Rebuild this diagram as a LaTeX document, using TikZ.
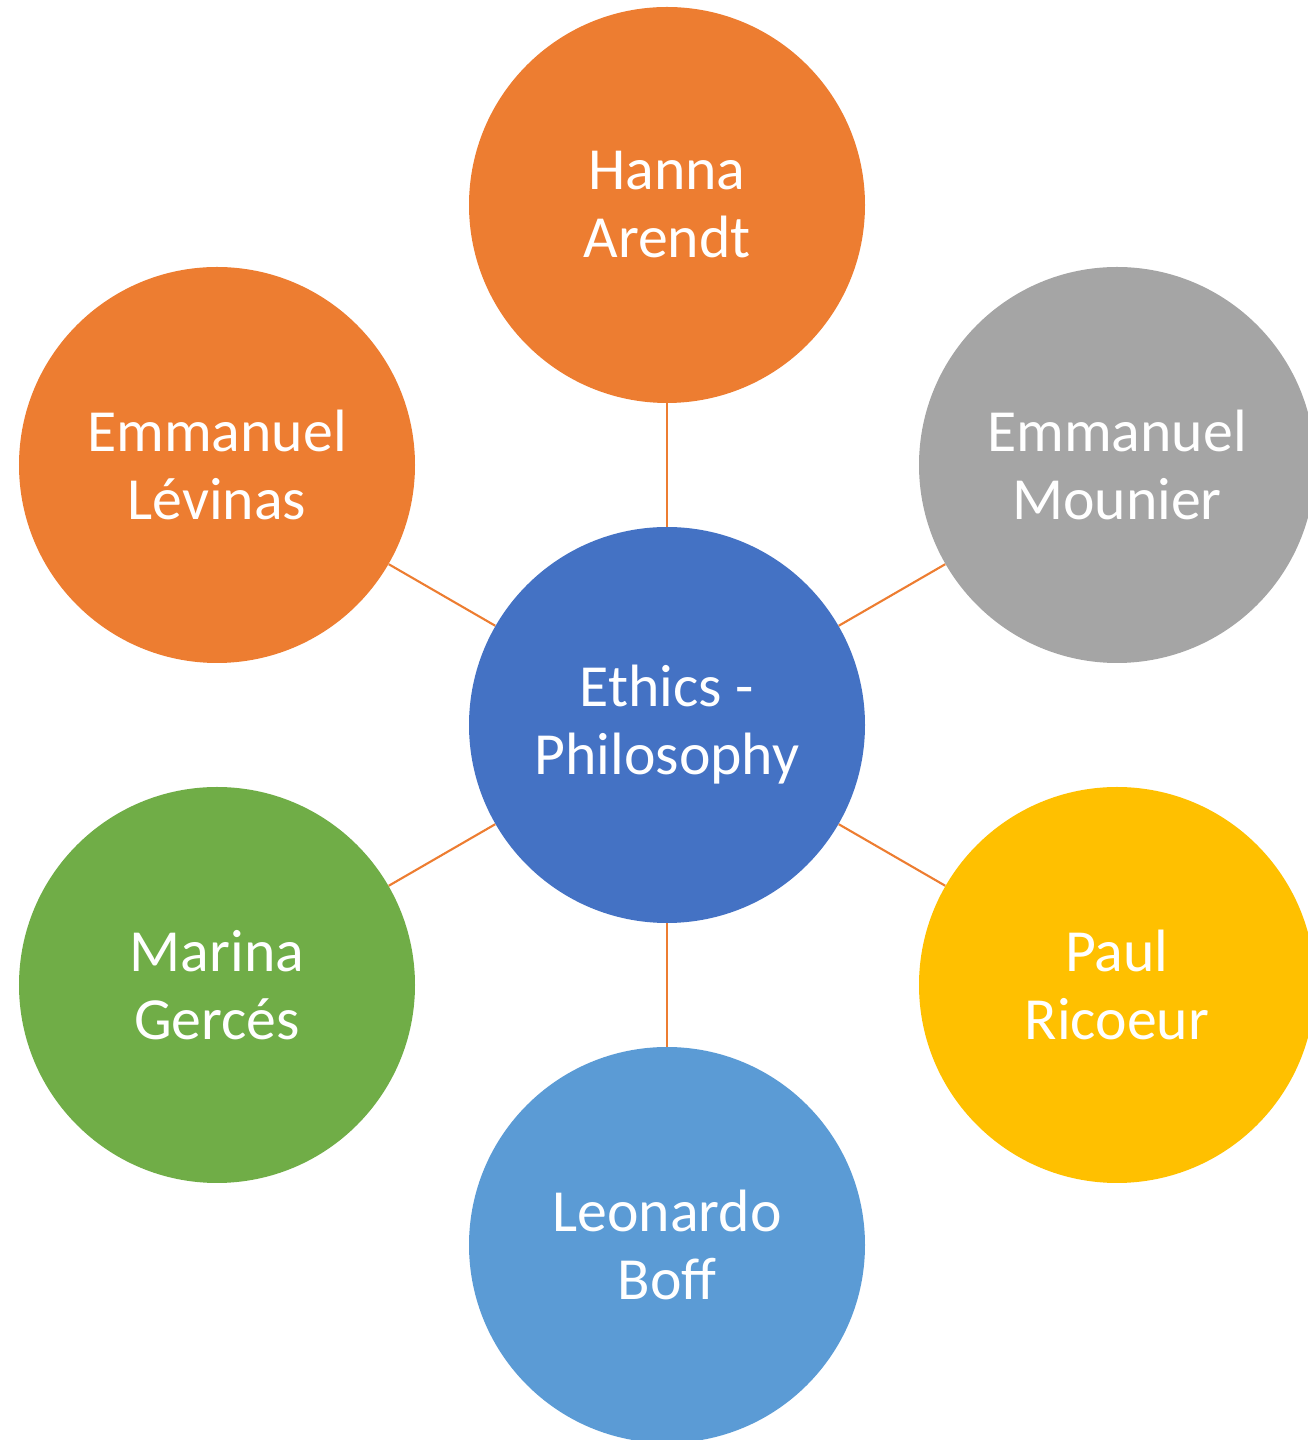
\documentclass[tikz,border=0pt]{standalone}
\usepackage{fontspec}
\setmainfont{Carlito}
\definecolor{accorange}{HTML}{ED7D31}
\definecolor{accgray}{HTML}{A5A5A5}
\definecolor{accgold}{HTML}{FFC000}
\definecolor{accblue}{HTML}{4472C4}
\definecolor{acclight}{HTML}{5B9BD5}
\definecolor{accgreen}{HTML}{70AD47}
\begin{document}
\begin{tikzpicture}
[
ethcircle/.style={circle, minimum size=7.92cm, inner sep=0, text=white, align=center,
  font=\fontsize{34}{38.7}\selectfont},
spoke/.style={draw=accorange, line width=1.2pt}
]
\useasboundingbox (0,0) rectangle (26.14,28.8);
%Nodes
\node[ethcircle, fill=accblue] at(13.34,14.30)		(c) {Ethics -\\Philosophy};
\node[ethcircle, fill=accorange] at(13.34,24.70)	(arendt) {Hanna\\Arendt};
\node[ethcircle, fill=accorange] at(4.34,19.50)		(levinas) {Emmanuel\\Lévinas};
\node[ethcircle, fill=accgray] at(22.34,19.50)		(mounier) {Emmanuel\\Mounier};
\node[ethcircle, fill=accgreen] at(4.34,9.10)		(garces) {Marina\\Gercés};
\node[ethcircle, fill=accgold] at(22.34,9.10)		(ricoeur) {Paul\\Ricoeur};
\node[ethcircle, fill=acclight] at(13.34,3.90)		(boff) {Leonardo\\Boff};

%Spokes
\draw[spoke] (c) -- (arendt);
\draw[spoke] (c) -- (levinas);
\draw[spoke] (c) -- (mounier);
\draw[spoke] (c) -- (garces);
\draw[spoke] (c) -- (ricoeur);
\draw[spoke] (c) -- (boff);

\end{tikzpicture}
\end{document}
